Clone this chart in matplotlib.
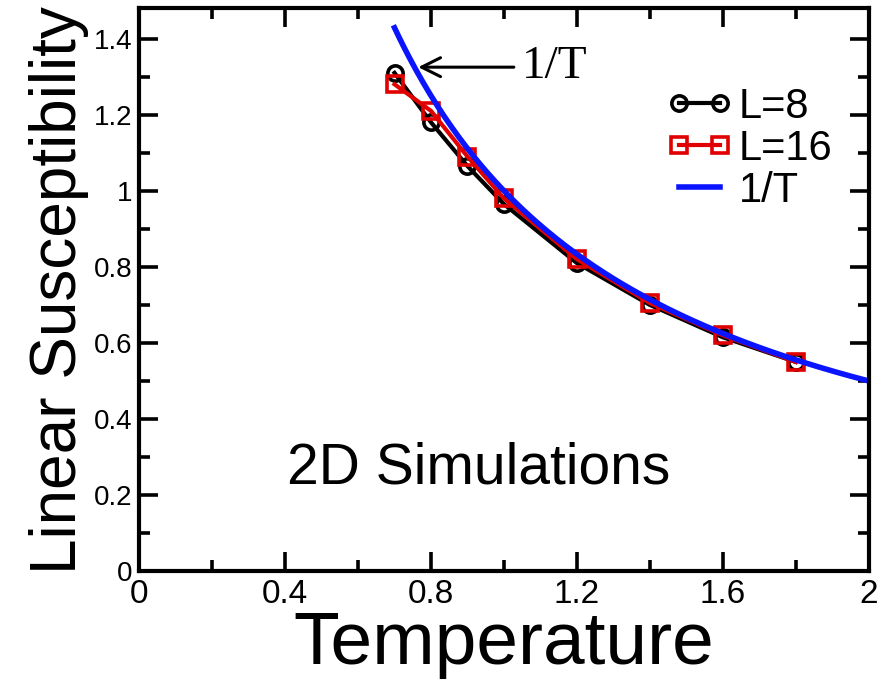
import numpy as np
import matplotlib
matplotlib.use("Agg")
import matplotlib.pyplot as plt
from matplotlib.ticker import MultipleLocator

temps = [0.7, 0.8, 0.9, 1.0, 1.2, 1.4, 1.6, 1.8]
chi_L8 = [1.31, 1.18, 1.065, 0.965, 0.81, 0.70, 0.615, 0.55]
chi_L16 = [1.28, 1.21, 1.09, 0.98, 0.82, 0.705, 0.62, 0.55]
curve_t = np.linspace(0.7, 2.0, 200)
curve_chi = 1.0 / curve_t

xticks = [0, 0.4, 0.8, 1.2, 1.6, 2]
xtick_labels = ["0", "0.4", "0.8", "1.2", "1.6", "2"]
yticks = [0, 0.2, 0.4, 0.6, 0.8, 1.0, 1.2, 1.4]
ytick_labels = ["0", "0.2", "0.4", "0.6", "0.8", "1", "1.2", "1.4"]

plt.rcParams['font.family'] = ['Liberation Sans', 'DejaVu Sans']

fig = plt.figure(figsize=(8.81, 6.84), dpi=100)
ax = fig.add_axes([0.158, 0.165, 0.828, 0.823])

ax.plot(temps, chi_L8, color='k', lw=3, marker='o', ms=11, mfc='none',
        mec='k', mew=2.6, label='L=8')
ax.plot(temps, chi_L16, color='#e00000', lw=3, marker='s', ms=12, mfc='none',
        mec='#e00000', mew=2.6, label='L=16')
ax.plot(curve_t, curve_chi, color='#0a14ff', lw=4, label='1/T')

# arrow pointing at the 1/T curve
ax.annotate('1/T', xy=(0.765, 1.325), xytext=(1.05, 1.325),
            fontsize=34, family='Liberation Serif', va='center',
            arrowprops=dict(arrowstyle='->', color='k', lw=2.2,
                            mutation_scale=34, shrinkA=4, shrinkB=0))

ax.text(0.93, 0.27, '2D Simulations', fontsize=41, ha='center', va='center')

ax.set_xlim(0, 2)
ax.set_ylim(0, 1.48)
ax.set_xticks(xticks)
ax.set_xticklabels(xtick_labels)
ax.set_yticks(yticks)
ax.set_yticklabels(ytick_labels)
ax.xaxis.set_minor_locator(MultipleLocator(0.2))
ax.yaxis.set_minor_locator(MultipleLocator(0.1))
ax.tick_params(which='both', direction='in', top=True, right=True, width=2.6)
ax.tick_params(which='major', length=14)
ax.tick_params(which='minor', length=8)
ax.tick_params(axis='x', labelsize=24, pad=6)
ax.tick_params(axis='y', labelsize=20, pad=5)
for sp in ax.spines.values():
    sp.set_linewidth(3)

ax.set_xlabel('Temperature', fontsize=54, labelpad=0)
ax.set_ylabel('Linear Susceptibility', fontsize=46, labelpad=3)

ax.legend(loc='upper right', bbox_to_anchor=(0.985, 0.905), frameon=False,
          fontsize=30, numpoints=2, handlelength=1.6, handletextpad=0.15,
          labelspacing=0.05, borderaxespad=0.2)

fig.savefig('out.png', dpi=100)
